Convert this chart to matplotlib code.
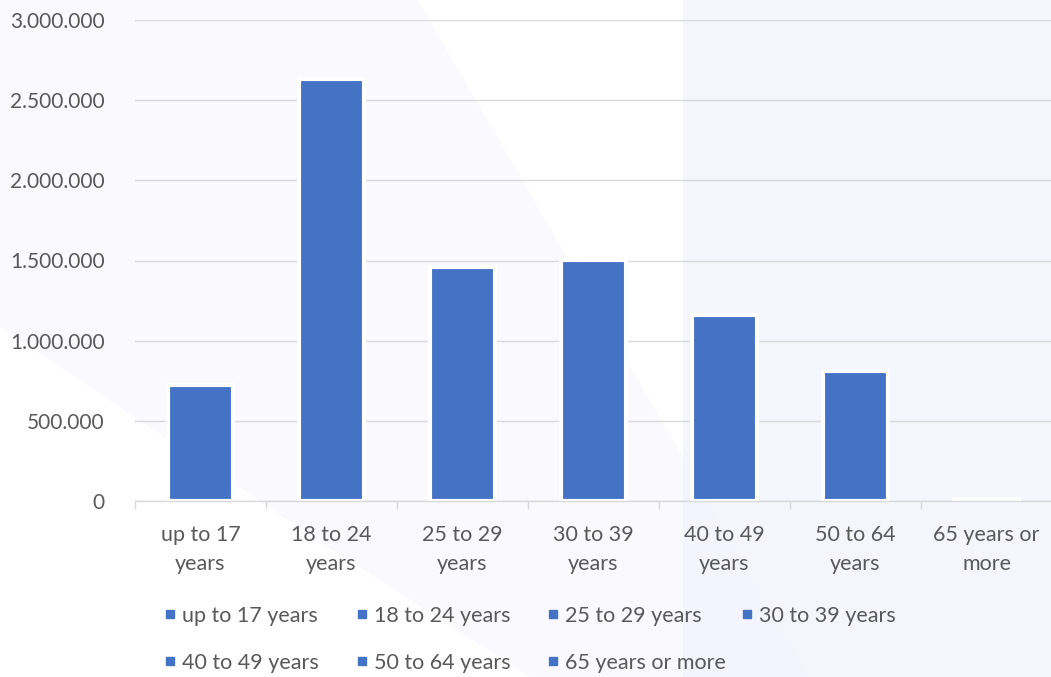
import numpy as np
import matplotlib
matplotlib.use('Agg')
import matplotlib.pyplot as plt
from matplotlib.patches import Polygon, Rectangle
from matplotlib.lines import Line2D
from matplotlib.ticker import FuncFormatter

# Data
categories = ['up to 17 years', '18 to 24 years', '25 to 29 years', '30 to 39 years',
              '40 to 49 years', '50 to 64 years', '65 years or more']
tick_labels = ['up to 17\nyears', '18 to 24\nyears', '25 to 29\nyears', '30 to 39\nyears',
               '40 to 49\nyears', '50 to 64\nyears', '65 years or\nmore']
values = [725000, 2632000, 1462000, 1502000, 1160000, 810000, 10000]

bar_color = '#4472c4'
text_color = '#595959'
grid_color = '#d9d9d9'

plt.rcParams['font.family'] = ['Lato', 'DejaVu Sans']

W, H = 1051, 677
fig = plt.figure(figsize=(W / 100, H / 100), dpi=100)
fig.patch.set_facecolor('white')

def px(x, y):
    return (x / W, 1 - y / H)

# faint background shapes
left_shape = [px(0, 0), px(418, 0), px(810, 677), px(530, 677), px(333, 550), px(0, 327)]
fig.add_artist(Polygon(left_shape, closed=True, transform=fig.transFigure,
                       facecolor='#f9f9fe', edgecolor='none', zorder=0))
fig.add_artist(Rectangle(px(683, 677), (W - 683) / W, 1, transform=fig.transFigure,
                         facecolor='#f3f4fd', edgecolor='none', alpha=0.85, zorder=0))

ax = fig.add_axes([135 / W, (H - 501) / H, 917 / W, 481 / H])
ax.set_facecolor('none')

x = np.arange(len(categories))
handles = []
for i, (cat, val) in enumerate(zip(categories, values)):
    ax.bar(x[i], val, width=0.5, color=bar_color, edgecolor='white', linewidth=3, zorder=3)
    handles.append(Line2D([], [], marker='s', linestyle='none', markersize=6,
                          markerfacecolor=bar_color, markeredgecolor=bar_color, label=cat))

ax.set_xlim(-0.5, len(categories) - 0.5)
ax.set_ylim(0, 3000000)
ax.set_yticks(np.arange(0, 3000001, 500000))
ax.yaxis.set_major_formatter(FuncFormatter(lambda v, p: f'{int(v):,}'.replace(',', '.')))
ax.grid(axis='y', color=grid_color, linewidth=1.0, zorder=0)
ax.set_axisbelow(True)

for s in ['top', 'right', 'left']:
    ax.spines[s].set_visible(False)
ax.spines['bottom'].set_color(grid_color)
ax.spines['bottom'].set_linewidth(1.0)
ax.spines['bottom'].set_zorder(5)

ax.set_xticks(x)
ax.set_xticklabels(tick_labels)
ax.set_xticks(np.arange(-0.5, len(categories), 1), minor=True)
ax.tick_params(axis='x', which='major', length=0, pad=17, labelsize=15.5, labelcolor=text_color)
ax.tick_params(axis='x', which='minor', length=6, width=1.0, color=grid_color)
ax.tick_params(axis='y', length=0, pad=22, labelsize=15, labelcolor=text_color)
for lab in ax.get_xticklabels():
    lab.set_linespacing(1.6)

# legend: four fixed-width columns, filled row by row
col_x = [164, 356, 547, 741]
ncol = 4
for c in range(ncol):
    idx = [i for i in range(c, len(categories), ncol)]
    leg = fig.legend([handles[i] for i in idx], [categories[i] for i in idx],
                     loc='upper left', bbox_to_anchor=(col_x[c] / W, 1 - 606 / H),
                     frameon=False, fontsize=15.5, labelcolor=text_color,
                     handlelength=0.55, handletextpad=0.3, labelspacing=1.25,
                     borderpad=0, borderaxespad=0)

fig.savefig('out.png', dpi=100)
